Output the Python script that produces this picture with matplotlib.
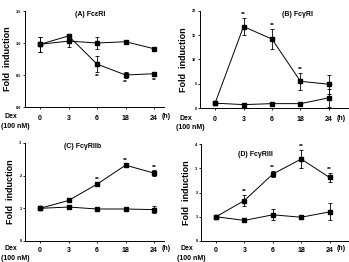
import numpy as np
import matplotlib
matplotlib.use('Agg')
from matplotlib import pyplot as plt

plt.rcParams['font.family'] = ['Liberation Sans', 'DejaVu Sans']
plt.rcParams['font.weight'] = 'bold'

W, H = 349, 262
times = ['0', '3', '6', '18', '24']

# (A) FceRI
a_dex = [0.98, 1.11, 0.67, 0.50, 0.52]
a_dex_err = [0.12, 0.03, 0.12, 0.04, 0.03]
a_ctl = [0.98, 1.03, 1.00, 1.02, 0.91]
a_ctl_err = [0.12, 0.09, 0.09, 0.03, 0.03]
a_star = [2, 3, 4]

# (B) FcgRI
b_dex = [1.0, 16.8, 14.2, 5.5, 4.9]
b_dex_err = [0.3, 1.7, 2.1, 1.7, 2.0]
b_ctl = [1.0, 0.7, 0.9, 0.9, 2.1]
b_ctl_err = [0.2, 0.3, 0.2, 0.3, 1.9]
b_star = [1, 2, 3]

# (C) FcgRIIb
c_dex = [1.0, 1.24, 1.74, 2.32, 2.08]
c_dex_err = [0.02, 0.03, 0.05, 0.04, 0.08]
c_ctl = [1.0, 1.04, 0.98, 0.98, 0.96]
c_ctl_err = [0.02, 0.03, 0.02, 0.06, 0.10]
c_star = [2, 3, 4]

# (D) FcgRIII
d_dex = [1.0, 1.67, 2.76, 3.38, 2.62]
d_dex_err = [0.03, 0.22, 0.12, 0.37, 0.18]
d_ctl = [1.0, 0.85, 1.08, 0.98, 1.2]
d_ctl_err = [0.03, 0.08, 0.22, 0.07, 0.35]
d_star = [1, 2, 3, 4]

panels = [
    ('(A) Fc\u03b5RI', a_dex, a_dex_err, a_ctl, a_ctl_err, a_star, 1.5, [0.0, 0.5, 1.0, 1.5], 'below'),
    ('(B) Fc\u03b3RI', b_dex, b_dex_err, b_ctl, b_ctl_err, b_star, 20, [0, 5, 10, 15, 20], 'above'),
    ('(C) Fc\u03b3RIIb', c_dex, c_dex_err, c_ctl, c_ctl_err, c_star, 3, [0, 1, 2, 3], 'above'),
    ('(D) Fc\u03b3RIII', d_dex, d_dex_err, d_ctl, d_ctl_err, d_star, 4, [0, 1, 2, 3, 4], 'above'),
]

# pixel layout: (left, top, right, bottom) of axes, title centre, x-limit right,
# offset of tick row and of "(100 nM)" below the axis
layout = [
    ((25, 11, 164, 107), (90, 15), 4.35, 10, 20),
    ((200, 11, 348, 108), (298, 15), 4.67, 10, 20),
    ((25, 143, 164, 241), (83, 146), 4.35, 8, 17),
    ((201, 144, 348, 241), (255, 154), 4.65, 8, 17),
]

fig = plt.figure(figsize=(W / 100, H / 100), dpi=100)
x = np.arange(len(times))

for (box, tpos, xr, dy1, dy2), (title, dex, dex_err, ctl, ctl_err, stars, ymax, yticks, pos) in zip(layout, panels):
    l, t, r, b = box
    ax = fig.add_axes([l / W, 1 - b / H, (r - l) / W, (b - t) / H])
    ax.errorbar(x, ctl, yerr=ctl_err, color='black', lw=0.7, marker='s', ms=2.2,
                capsize=1.5, elinewidth=0.6, capthick=0.6)
    ax.errorbar(x, dex, yerr=dex_err, color='black', lw=0.7, marker='s', ms=3.2,
                capsize=1.5, elinewidth=0.6, capthick=0.6)
    for i in stars:
        if pos == 'below':
            ax.text(x[i], dex[i] - dex_err[i] - ymax * 0.02, '**', ha='center', va='top',
                    fontsize=4.5, fontweight='bold')
        else:
            ax.text(x[i], dex[i] + dex_err[i] + ymax * 0.01, '**', ha='center', va='bottom',
                    fontsize=4.5, fontweight='bold')
    ax.set_xlim(-0.53, xr)
    ax.set_ylim(0, ymax)
    ax.set_yticks(yticks)
    if ymax == 1.5:
        ax.set_yticklabels(['%.1f' % v for v in yticks])
    ax.set_xticks(x)
    ax.set_xticklabels(times)
    ax.tick_params(axis='y', labelsize=2.8, length=1.5, width=0.6, pad=1)
    ax.tick_params(axis='x', labelsize=5, length=1.5, width=0.6, pad=4 if dy1 == 10 else 2.5)
    for s in ['top', 'right']:
        ax.spines[s].set_visible(False)
    for s in ['left', 'bottom']:
        ax.spines[s].set_linewidth(0.7)
    ax.set_ylabel('Fold  induction', fontsize=6.5, fontweight='bold', labelpad=3)
    fig.text(tpos[0] / W, 1 - tpos[1] / H, title, ha='center', va='center',
             fontsize=5, fontweight='bold')
    fig.text((l + (4.42 + 0.53) / (xr + 0.53) * (r - l)) / W, 1 - (b + dy1) / H, '(h)',
             ha='center', va='center', fontsize=5, fontweight='bold')
    fig.text((l - 14) / W, 1 - (b + dy1) / H, 'Dex', ha='center', va='center',
             fontsize=5, fontweight='bold')
    fig.text((l - 10) / W, 1 - (b + dy2) / H, '(100 nM)', ha='center', va='center',
             fontsize=5, fontweight='bold')

plt.savefig('out.png', dpi=100)
